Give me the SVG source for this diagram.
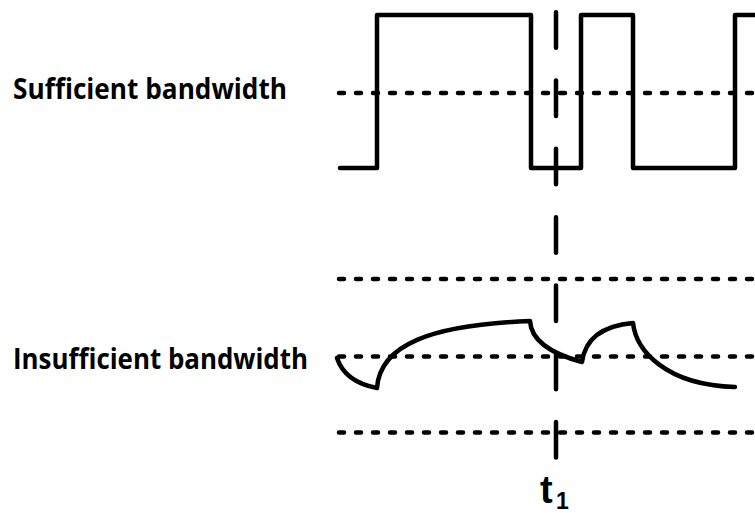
<svg xmlns="http://www.w3.org/2000/svg" width="755" height="513" viewBox="0 0 755 513">
<style>
.wave{fill:none;stroke:#000;stroke-width:4.5;stroke-linejoin:round;stroke-linecap:round}
.dot{fill:none;stroke:#000;stroke-width:4.5;stroke-linecap:round;stroke-dasharray:5 12}
.dash{fill:none;stroke:#000;stroke-width:4.5;stroke-linecap:round;stroke-dasharray:35.5 32.8}
.lbl{font-family:"Open Sans","Lato",sans-serif;font-weight:bold;font-size:28px;fill:#000}
.t{font-family:"Liberation Sans",Arial,sans-serif;font-weight:bold;fill:#000}
</style>
<rect width="755" height="513" fill="#fff"/>
<g id="labels">
<text id="label-sufficient" class="lbl" x="13" y="99" textLength="274" lengthAdjust="spacingAndGlyphs">Sufficient bandwidth</text>
<text id="label-insufficient" class="lbl" x="13" y="369" textLength="295" lengthAdjust="spacingAndGlyphs">Insufficient bandwidth</text>
<text id="label-t1" class="t" x="540" y="503" font-size="38">t<tspan x="556" y="509" font-size="23">1</tspan></text>
</g>
<g id="reference-lines">
<path class="dot" d="M339 93 H755"/>
<path class="dot" d="M339 279 H755"/>
<path class="dot" d="M339 356.5 H755"/>
<path class="dot" d="M339 432.5 H755"/>
</g>
<g id="signals">
<path id="square-wave" class="wave" d="M340 168 H377 V15 H531 V168 H581 V15 H633 V168 H735 V15 H760"/>
<path id="limited-wave" class="wave" d="M337 358 Q345 382 377 388 C380 345 430 325 530 321 C531 338 545 352 582 362 C585 340 600 326 633 323 C636 350 665 385 735 387"/>
</g>
<g id="connectors">
<path id="t1-marker" class="dash" d="M556 12.25 V458"/>
</g>
</svg>
